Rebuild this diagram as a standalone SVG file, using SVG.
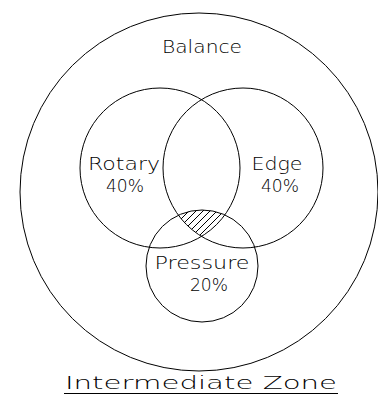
<svg xmlns="http://www.w3.org/2000/svg" width="378" height="398" viewBox="0 0 378 398">
<style>
.c{fill:none;stroke:#000;stroke-width:1}
.t{font-family:"DejaVu Sans","Liberation Sans",sans-serif;font-weight:200;font-size:17px;fill:#000}
.h{stroke:#000;stroke-width:1}
</style>
<defs>
<clipPath id="cR"><circle cx="160" cy="168" r="80"/></clipPath>
<clipPath id="cE"><circle cx="243" cy="168" r="80"/></clipPath>
<clipPath id="cP"><circle cx="202" cy="266" r="56"/></clipPath>
</defs>
<rect width="378" height="398" fill="#fff"/>
<g id="balance">
<circle class="c" cx="199" cy="192" r="179"/>
<text class="t" x="202" y="53" text-anchor="middle" textLength="80" lengthAdjust="spacingAndGlyphs">Balance</text>
</g>
<g id="hatch">
<g clip-path="url(#cR)"><g clip-path="url(#cE)"><g clip-path="url(#cP)">
<path class="h" d="M150,250 L210,190 M157,250 L217,190 M164,250 L224,190 M171,250 L231,190 M178,250 L238,190 M185,250 L245,190 M192,250 L252,190 M199,250 L259,190 M206,250 L266,190 M213,250 L273,190 M143,250 L203,190 M136,250 L196,190"/>
</g></g></g>
</g>
<g id="rotary">
<circle class="c" cx="160" cy="168" r="80"/>
<text class="t" x="124" y="170" text-anchor="middle" textLength="72" lengthAdjust="spacingAndGlyphs">Rotary</text>
<text class="t" x="125" y="192" text-anchor="middle" textLength="38" lengthAdjust="spacingAndGlyphs">40%</text>
</g>
<g id="edge">
<circle class="c" cx="243" cy="168" r="80"/>
<text class="t" x="277" y="170" text-anchor="middle" textLength="51" lengthAdjust="spacingAndGlyphs">Edge</text>
<text class="t" x="280" y="192" text-anchor="middle" textLength="38" lengthAdjust="spacingAndGlyphs">40%</text>
</g>
<g id="pressure">
<circle class="c" cx="202" cy="266" r="56"/>
<text class="t" x="202" y="269" text-anchor="middle" textLength="95" lengthAdjust="spacingAndGlyphs">Pressure</text>
<text class="t" x="209" y="291" text-anchor="middle" textLength="38" lengthAdjust="spacingAndGlyphs">20%</text>
</g>
<g id="title">
<text class="t" x="201" y="389" text-anchor="middle" textLength="272" lengthAdjust="spacingAndGlyphs">Intermediate  Zone</text>
<line class="c" x1="64" y1="393.5" x2="338" y2="393.5"/>
</g>
</svg>
